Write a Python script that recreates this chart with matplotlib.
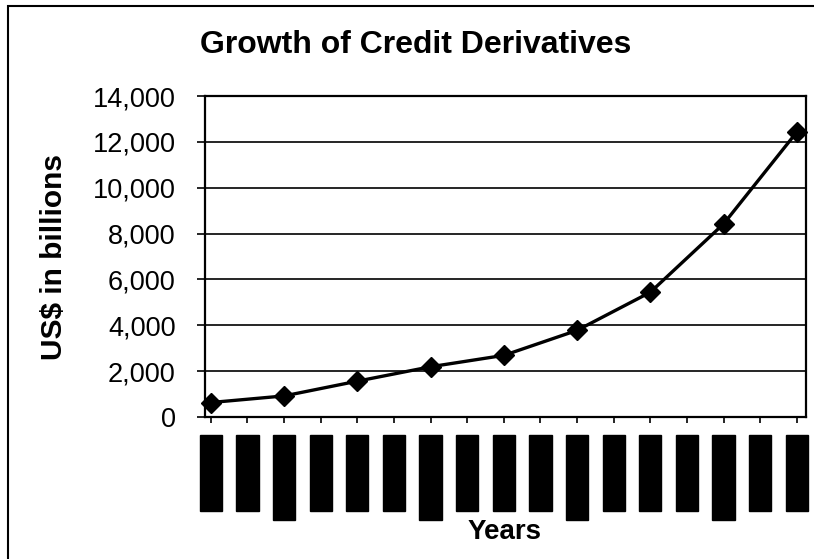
import matplotlib
matplotlib.use('Agg')
import matplotlib.pyplot as plt
from matplotlib.patches import Rectangle

# quarterly date labels on the x axis (shown redacted in the original)
quarters = ['6/30/2001', '9/30/2001', '12/31/2001', '3/31/2002', '6/30/2002',
            '9/30/2002', '12/31/2002', '3/31/2003', '6/30/2003', '9/30/2003',
            '12/31/2003', '3/31/2004', '6/30/2004', '9/30/2004', '12/31/2004',
            '3/31/2005', '6/30/2005']
# semi-annual survey points (index into quarters) and notional, US$ bn
survey_idx = [0, 2, 4, 6, 8, 10, 12, 14, 16]
notional = [632, 919, 1563, 2192, 2688, 3779, 5442, 8422, 12430]

plt.rcParams['font.family'] = ['Liberation Sans', 'DejaVu Sans']

fig = plt.figure(figsize=(8.14, 5.59), dpi=100)
fig.patches.append(Rectangle((8 / 814, -0.1), 1.2, 1 - 6 / 559 + 0.1,
                             transform=fig.transFigure, fill=False,
                             edgecolor='black', linewidth=1.5))

ax = fig.add_axes([205 / 814, 1 - 417 / 559, 601 / 814, 321 / 559])

ax.plot(survey_idx, notional, color='black', linewidth=2.4,
        marker='D', markersize=10, zorder=3, clip_on=False)

ax.set_ylim(0, 14000)
ax.set_yticks(range(0, 14001, 2000))
ax.set_yticklabels([f'{v:,}' for v in range(0, 14001, 2000)], fontsize=19.5)
ax.yaxis.grid(True, color='black', linewidth=1.2)
ax.set_axisbelow(True)

ax.set_xlim(-0.16, 16.25)
ax.set_xticks(range(len(quarters)))
ax.set_xticklabels(quarters, rotation=90, fontsize=11, color='black')
for lbl in ax.get_xticklabels():
    lbl.set_bbox(dict(facecolor='black', edgecolor='black', pad=3))

ax.tick_params(axis='x', length=4, width=1.2, pad=12)
ax.tick_params(axis='y', length=6, width=1.2, pad=15)
for sp in ax.spines.values():
    sp.set_color('black')
    sp.set_linewidth(1.6)

ax.set_ylabel('US$ in billions', fontsize=21.5, fontweight='bold', labelpad=18)
fig.text(505 / 814, 1 - 532 / 559, 'Years', fontsize=20, fontweight='bold',
         ha='center', va='center')
fig.text(416 / 814, 1 - 45 / 559, 'Growth of Credit Derivatives', fontsize=23,
         fontweight='bold', ha='center', va='center')

fig.savefig('out.png', dpi=100)
